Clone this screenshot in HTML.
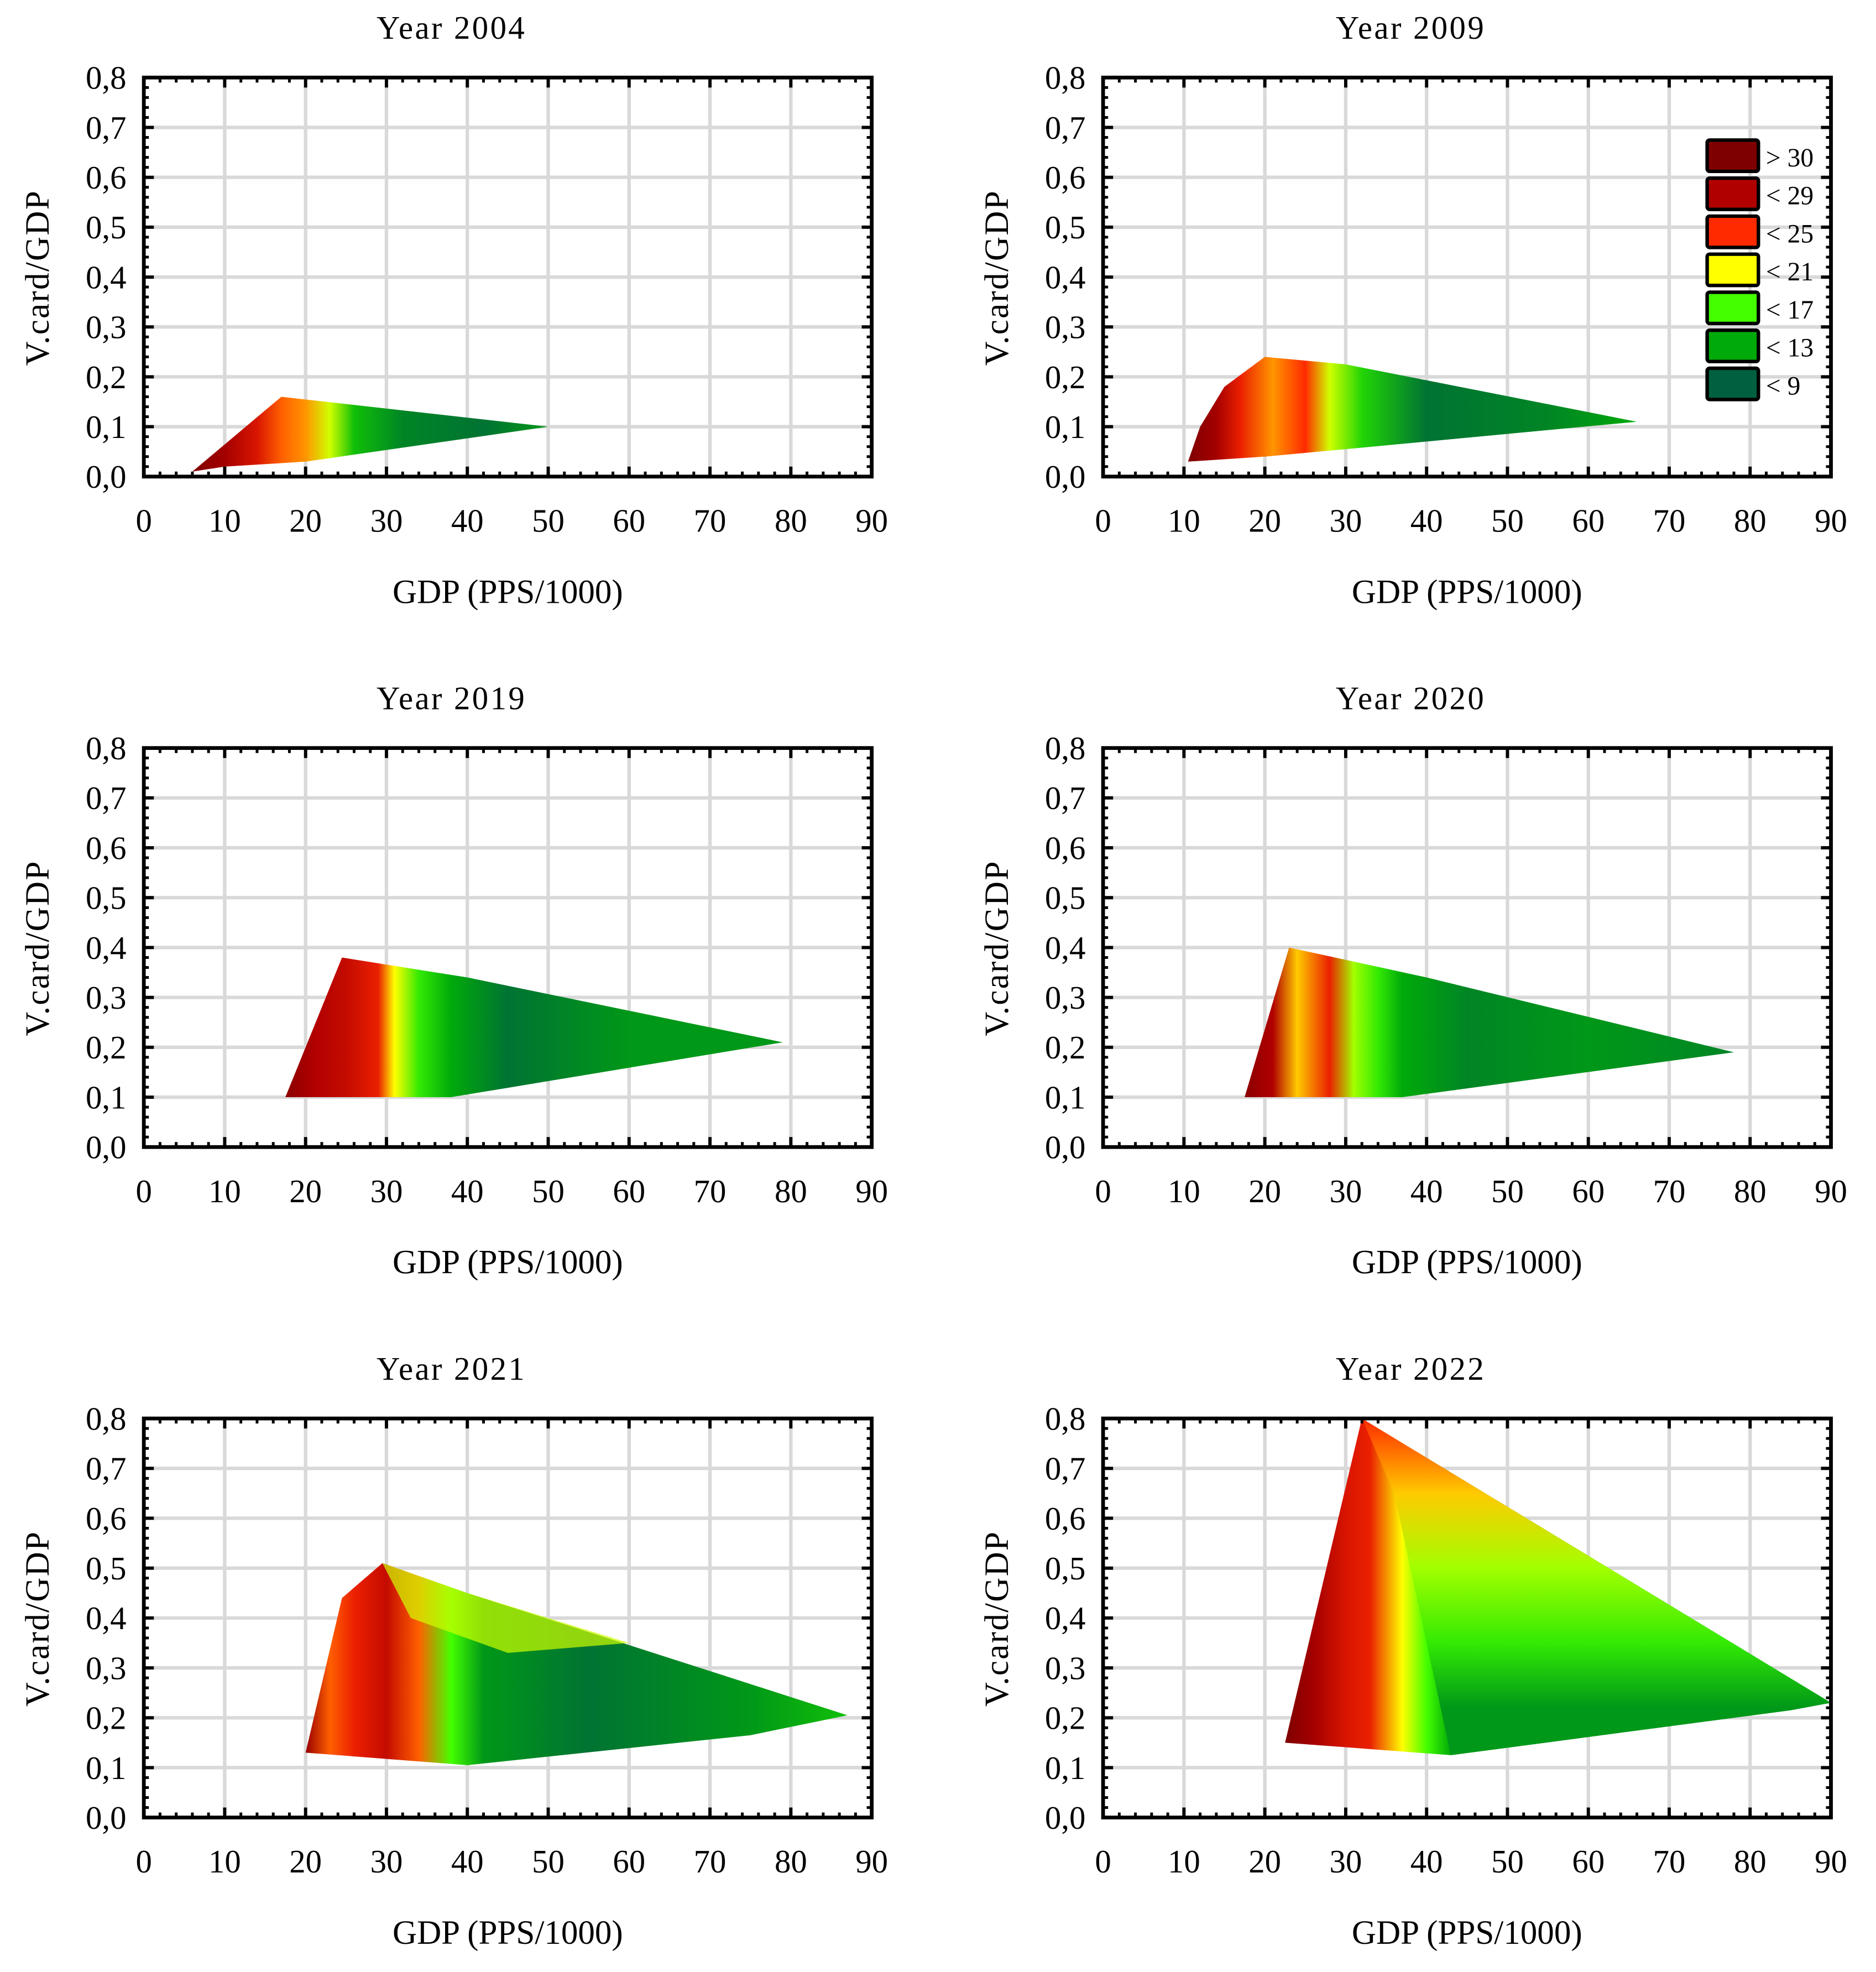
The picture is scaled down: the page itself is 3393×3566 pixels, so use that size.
<!DOCTYPE html>
<html><head><meta charset="utf-8"><style>
html,body{margin:0;padding:0;background:#fff;}
svg{display:block;}
text{font-family:"Liberation Serif",serif;fill:#000;}
</style></head><body>
<svg id="chart" xmlns="http://www.w3.org/2000/svg" width="3393" height="3566" viewBox="0 0 1500 1576.5"></svg>
<script>
const xTicks=[0,10,20,30,40,50,60,70,80,90];
const yTicks=[0,0.1,0.2,0.3,0.4,0.5,0.6,0.7,0.8];
const yTickLabels=["0,0","0,1","0,2","0,3","0,4","0,5","0,6","0,7","0,8"];
const legendLabels=["> 30","< 29","< 25","< 21","< 17","< 13","< 9"];
const legendColors=["#7f0000","#b00000","#ff2a00","#ffff00","#44ff00","#00aa0a","#006040"];
const colorZ=[31,27,23,19,15,11,7];
const panelTitles=["Year 2004","Year 2009","Year 2019","Year 2020","Year 2021","Year 2022"];
const hullX_2004=[6,17,50,20,10];
const hullY_2004=[0.01,0.16,0.10,0.03,0.02];
const stopX_2004=[6,10,14,17,20,23,26,32,42,50];
const stopZ_2004=[32,28,25,22,21,18,12,9,8,10];
const hullX_2009=[10.5,12,15,20,30,66,30,20];
const hullY_2009=[0.03,0.1,0.18,0.24,0.225,0.11,0.055,0.04];
const stopX_2009=[10.5,14,17,21,25,28,32,40,55,66];
const stopZ_2009=[31,28,24,21,23,18,13,8,9,11];
const hullX_2019=[17.5,24.5,40,79,38];
const hullY_2019=[0.10,0.38,0.34,0.21,0.10];
const stopX_2019=[17.5,21,25,29,31,34,38,45,60,79];
const stopZ_2019=[30,27,26,24,19,14,11,8,10,10];
const hullX_2020=[17.5,23,40,78,37];
const hullY_2020=[0.10,0.40,0.34,0.19,0.10];
const stopX_2020=[17.5,21,24,28,31,34,37,45,60,78];
const stopZ_2020=[30,27,20,24,17,14,11,9,10,9];
const hullX_2021=[20,24.5,29.5,40,87,75,40];
const hullY_2021=[0.13,0.44,0.51,0.45,0.205,0.165,0.105];
const stopX_2021=[20,23,26,30,34,38,42,55,75,87];
const stopZ_2021=[29,22,24,26,22,15,10,8,10,12];
const hullX_2022=[22.5,32,90,85,43];
const hullY_2022=[0.15,0.80,0.23,0.215,0.125];
const stopX_2022=[22.5,26,30,33,37,40,43,55,75,90];
const stopZ_2022=[31,28,25,24,19,15,11,9,9,10];
const overX_2021=[29.5,40,60,45,33];
const overY_2021=[0.51,0.45,0.35,0.33,0.40];
const overZ_2021=[18];
const overX_2022=[32,90,85,43,40,36];
const overY_2022=[0.80,0.23,0.215,0.125,0.35,0.65];
const overGradY_2022=[0.8,0.65,0.5,0.35,0.22];
const overGradZ_2022=[23,20,17,14,10];

const panels=[
 {L:115,T:62,hx:hullX_2004,hy:hullY_2004,sx:stopX_2004,sz:stopZ_2004},
 {L:882,T:62,hx:hullX_2009,hy:hullY_2009,sx:stopX_2009,sz:stopZ_2009,legend:true},
 {L:115,T:598,hx:hullX_2019,hy:hullY_2019,sx:stopX_2019,sz:stopZ_2019},
 {L:882,T:598,hx:hullX_2020,hy:hullY_2020,sx:stopX_2020,sz:stopZ_2020},
 {L:115,T:1134,hx:hullX_2021,hy:hullY_2021,sx:stopX_2021,sz:stopZ_2021,ox:overX_2021,oy:overY_2021,oz:overZ_2021},
 {L:882,T:1134,hx:hullX_2022,hy:hullY_2022,sx:stopX_2022,sz:stopZ_2022,ox:overX_2022,oy:overY_2022,ogy:overGradY_2022,ogz:overGradZ_2022}
];
const W=582,H=319;
const NS="http://www.w3.org/2000/svg";
const svg=document.getElementById('chart');
function hex(c){return [parseInt(c.substr(1,2),16),parseInt(c.substr(3,2),16),parseInt(c.substr(5,2),16)];}
function colorFor(z){
 if(z>=colorZ[0])return legendColors[0];
 if(z<=colorZ[6])return legendColors[6];
 for(let i=0;i<6;i++){if(z<=colorZ[i]&&z>=colorZ[i+1]){const t=(colorZ[i]-z)/(colorZ[i]-colorZ[i+1]);const a=hex(legendColors[i]),b=hex(legendColors[i+1]);return 'rgb('+a.map((v,k)=>Math.round(v+(b[k]-v)*t)).join(',')+')';}}
}
function el(tag,attrs,parent){const e=document.createElementNS(NS,tag);for(const k in attrs)e.setAttribute(k,attrs[k]);(parent||svg).appendChild(e);return e;}
const defs=el('defs',{});
panels.forEach((p,pi)=>{
 const g=el('g',{});
 
 
 const xs=v=>p.L+v/90*W, ys=v=>p.T+H-v/0.8*H;
 xTicks.forEach(v=>{if(v>0&&v<90){const l=el('line',{x1:xs(v),x2:xs(v),y1:p.T,y2:p.T+H,stroke:'#d9d9d9','stroke-width':2.8},g);}});
 yTicks.forEach(v=>{if(v>0&&v<0.8){const l=el('line',{x1:p.L,x2:p.L+W,y1:ys(v),y2:ys(v),stroke:'#d9d9d9','stroke-width':2.8},g);}});
 const gid='grad'+pi;
 const lg=el('linearGradient',{id:gid,gradientUnits:'userSpaceOnUse',x1:xs(p.sx[0]),y1:0,x2:xs(p.sx[p.sx.length-1]),y2:0},defs);
 const span=p.sx[p.sx.length-1]-p.sx[0];
 p.sx.forEach((x,i)=>el('stop',{offset:((x-p.sx[0])/span).toFixed(4),'stop-color':colorFor(p.sz[i])},lg));
 const pts=p.hx.map((x,i)=>xs(x)+','+ys(p.hy[i])).join(' ');
 const hull=el('polygon',{points:pts,fill:'url(#'+gid+')'},g);
 
 
 if(p.ox){
  let fill,op=0.7;
  if(p.ogy){
   const oid='ograd'+pi;
   const og=el('linearGradient',{id:oid,gradientUnits:'userSpaceOnUse',x1:0,y1:ys(p.ogy[0]),x2:0,y2:ys(p.ogy[p.ogy.length-1])},defs);
   const sp=p.ogy[0]-p.ogy[p.ogy.length-1];
   p.ogy.forEach((y,i)=>el('stop',{offset:((p.ogy[0]-y)/sp).toFixed(4),'stop-color':colorFor(p.ogz[i])},og));
   fill='url(#'+oid+')';op=1;
  } else fill=colorFor(p.oz[0]);
  const ov=el('polygon',{points:p.ox.map((x,i)=>xs(x)+','+ys(p.oy[i])).join(' '),fill:fill,opacity:op},g);
  
  
 }
 for(let v=2;v<90;v+=2){if(v%10){el('line',{x1:xs(v),x2:xs(v),y1:p.T+H,y2:p.T+H-4,stroke:'#000','stroke-width':2.2},g);el('line',{x1:xs(v),x2:xs(v),y1:p.T,y2:p.T+4,stroke:'#000','stroke-width':2.2},g);}}
 for(let k=1;k<40;k++){if(k%5){const v=k*0.02;el('line',{x1:p.L,x2:p.L+4,y1:ys(v),y2:ys(v),stroke:'#000','stroke-width':2.2},g);el('line',{x1:p.L+W,x2:p.L+W-4,y1:ys(v),y2:ys(v),stroke:'#000','stroke-width':2.2},g);}}
 xTicks.forEach(v=>{el('line',{x1:xs(v),x2:xs(v),y1:p.T+H,y2:p.T+H-8,stroke:'#000','stroke-width':2.6},g);el('line',{x1:xs(v),x2:xs(v),y1:p.T,y2:p.T+8,stroke:'#000','stroke-width':2.6},g);});
 yTicks.forEach(v=>{el('line',{x1:p.L,x2:p.L+8,y1:ys(v),y2:ys(v),stroke:'#000','stroke-width':2.6},g);el('line',{x1:p.L+W,x2:p.L+W-8,y1:ys(v),y2:ys(v),stroke:'#000','stroke-width':2.6},g);});
 const fr=el('rect',{x:p.L,y:p.T,width:W,height:H,fill:'none',stroke:'#000','stroke-width':3},g);
 
 
 xTicks.forEach(v=>{const t=el('text',{x:xs(v),y:p.T+H+44,'text-anchor':'middle','font-size':26},g);t.textContent=v;});
 yTicks.forEach((v,i)=>{const t=el('text',{x:p.L-14,y:ys(v)+9,'text-anchor':'end','font-size':26},g);t.textContent=yTickLabels[i];});
 const tt=el('text',{x:p.L+246,y:p.T-31,'text-anchor':'middle','font-size':26,'letter-spacing':'1.5'},g);tt.textContent=panelTitles[pi];
 
 
 const xl=el('text',{x:p.L+291,y:p.T+H+101,'text-anchor':'middle','font-size':27},g);xl.textContent='GDP  (PPS/1000)';
 
 
 const yl=el('text',{x:0,y:0,'text-anchor':'middle','font-size':27,'letter-spacing':'1',transform:'translate('+(p.L-76)+','+(p.T+160)+') rotate(-90)'},g);yl.textContent='V.card/GDP';
 
 
 if(p.legend){
  const lgG=el('g',{},g);
  
  
  legendLabels.forEach((lab,i)=>{
   const y=112+i*30.4;
   const r=el('rect',{x:1365,y:y,width:41,height:25,rx:2,fill:legendColors[i],stroke:'#000','stroke-width':2.8},lgG);
   
   
   const t=el('text',{x:1412,y:y+21,'font-size':21},lgG);t.textContent=lab;
   
   
  });
 }
});
</script>
</body></html>
